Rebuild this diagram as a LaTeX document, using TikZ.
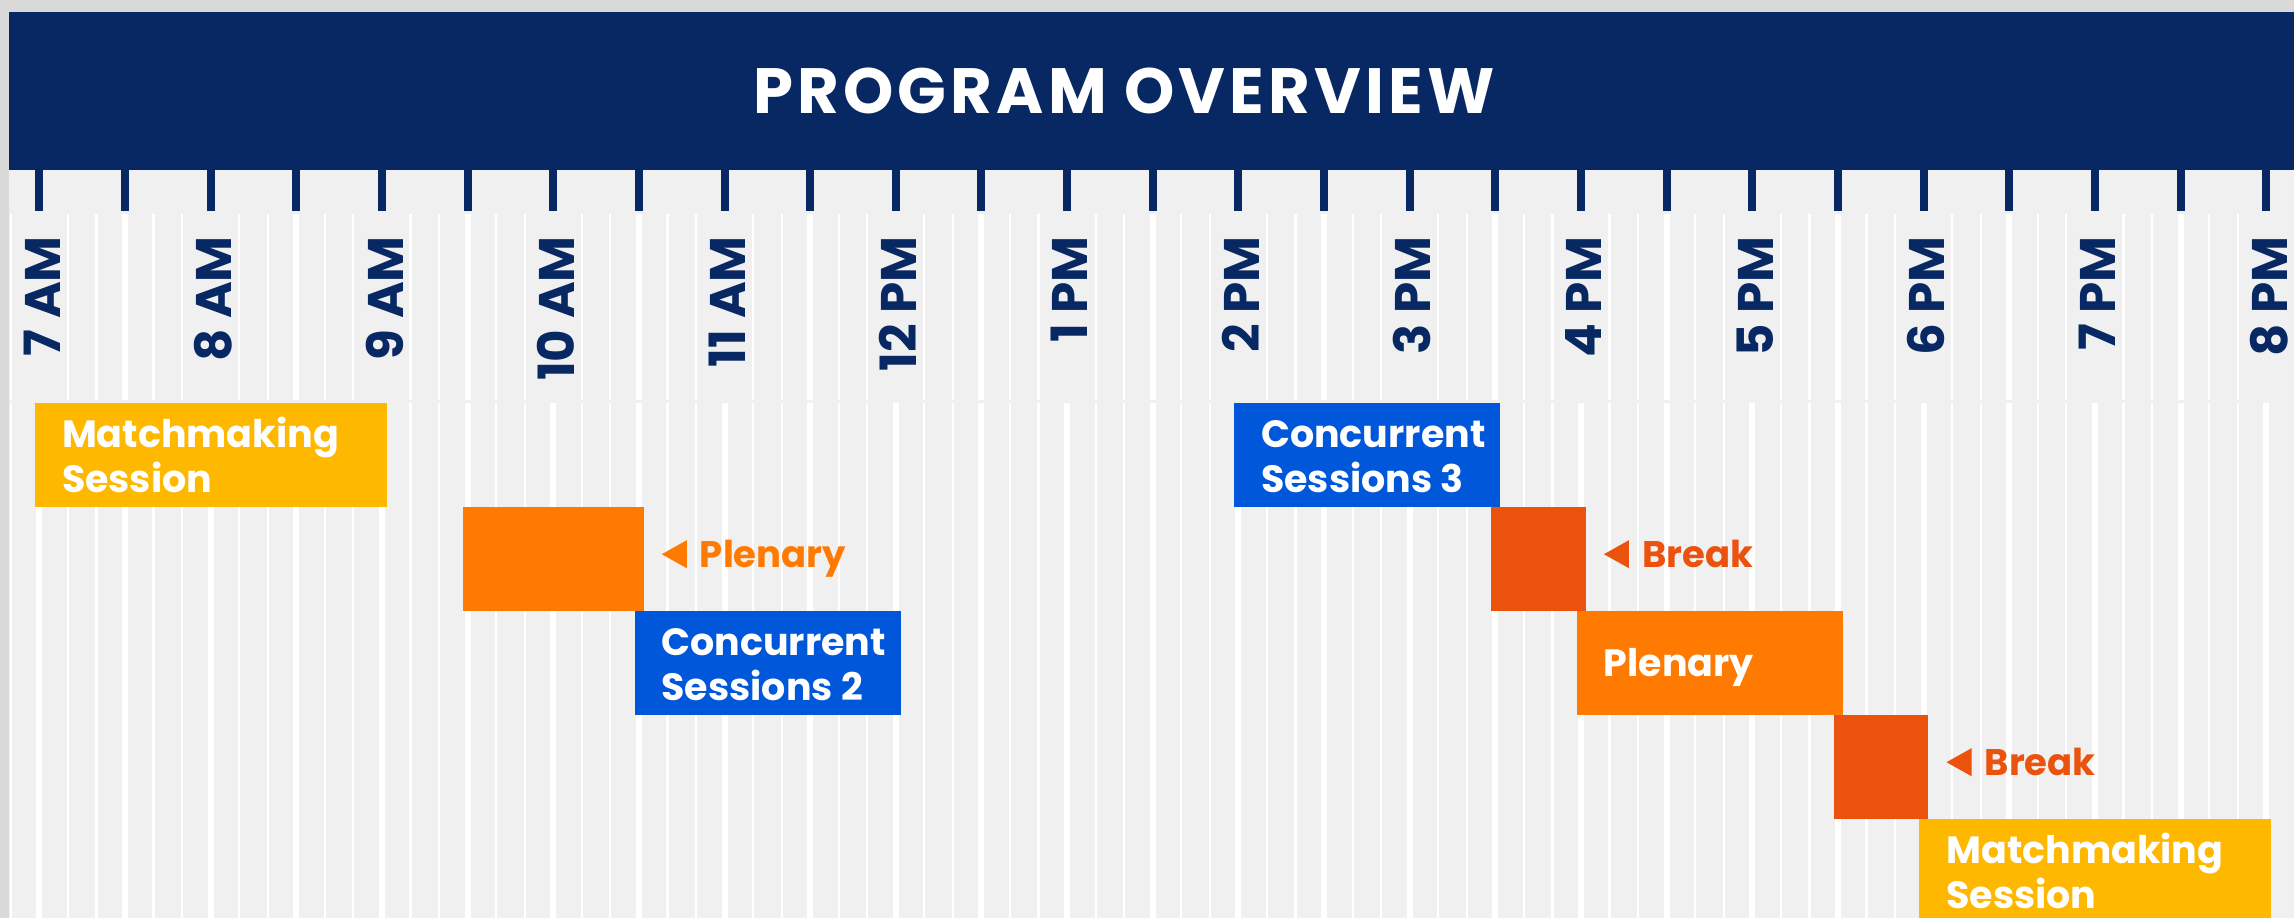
\documentclass[tikz,border=0pt]{standalone}
\usepackage{fontspec}
\setmainfont{Poppins}
\usepackage{tikz}

\definecolor{navy}{RGB}{8,40,99}
\definecolor{bordergray}{RGB}{217,217,217}
\definecolor{chartbg}{RGB}{240,240,240}
\definecolor{mmyellow}{RGB}{255,184,0}
\definecolor{plenorange}{RGB}{255,122,0}
\definecolor{breakorange}{RGB}{234,82,14}
\definecolor{csblue}{RGB}{0,87,217}

\begin{document}
\begin{tikzpicture}[x=1pt,y=-1pt,slot/.style={anchor=north west,inner sep=0pt,xshift=-4.5pt,minimum height=104pt,minimum width={(#1*\hr+9)*1pt}},slotT/.style={anchor=base west,inner sep=0pt,align=left,text=white,font=\fontsize{38}{44.5}\selectfont\bfseries},sideT/.style={anchor=base west,inner sep=0pt,font=\fontsize{37}{44}\selectfont\bfseries},hourT/.style={rotate=90,anchor=east,inner sep=0pt,text=navy,font=\fontsize{50}{50}\selectfont\bfseries},gthin/.style={white,line width=2.2pt},gthick/.style={white,line width=6pt}]
\def\xs{39.3};
\def\hr{171.3};
\def\ytop{403};
\def\ry{104};

\clip (0,0) rectangle (2294,918);
\fill[bordergray] (0,0) rectangle (2294,918);
\fill[chartbg] (9,170) rectangle (2294,918);
\fill[navy] (9,12) rectangle (2294,170);

\node[font=\fontsize{64}{64}\selectfont\bfseries\addfontfeatures{LetterSpace=6.5},text=white,inner sep=0pt] (T) at (1124,91) {PROGRAM OVERVIEW};

% grid, every 10 minutes
\foreach \k in {-1,...,78}{
  \pgfmathtruncatemacro\m{mod(\k+6,3)}
  \pgfmathtruncatemacro\n{mod(\k+6,6)}
  \ifnum\m=0
    \draw[gthick] (\xs+\k*\hr/6,403) -- (\xs+\k*\hr/6,918);
    \ifnum\n=3 \draw[gthick] (\xs+\k*\hr/6,214) -- (\xs+\k*\hr/6,400); \fi
  \else
    \draw[gthin] (\xs+\k*\hr/6,214) -- (\xs+\k*\hr/6,400);
    \draw[gthin] (\xs+\k*\hr/6,403) -- (\xs+\k*\hr/6,918);
  \fi
}

% ticks
\foreach \k in {0,...,26}
  \draw[navy,line width=8pt] (\xs+\k*\hr/2,170) -- (\xs+\k*\hr/2,211);

\foreach \lab [count=\i from 0] in {7 AM,8 AM,9 AM,10 AM,11 AM,12 PM,1 PM,2 PM,3 PM,4 PM,5 PM,6 PM,7 PM,8 PM}
  \node[hourT] (h\i) at (\xs+2.5+\i*\hr,236) {\lab};

\node[slot=2,fill=mmyellow] (MM) at (\xs,\ytop) {};
\node[slotT] (MMt) at ([xshift=27pt,yshift=-37pt]MM.west) {Matchmaking\\Session};

\node[slot=1,fill=plenorange] (P) at (\xs+2.5*\hr,\ytop+\ry) {};
\coordinate (Pa) at ([xshift=18pt,yshift=5pt]P.east);
\fill[plenorange] (Pa) -- ++(25,-14) -- ++(0,28) -- cycle;
\node[sideT,text=plenorange] (Pl) at ([xshift=38pt,yshift=-13pt]Pa) {Plenary};

\node[slot=1.5,fill=csblue] (CS2) at (\xs+3.5*\hr,\ytop+2*\ry) {};
\node[slotT] (CS2t) at ([xshift=27pt,yshift=-37pt]CS2.west) {Concurrent\\Sessions 2};

\node[slot=1.5,fill=csblue] (CS3) at (\xs+7*\hr,\ytop) {};
\node[slotT] (CS3t) at ([xshift=27pt,yshift=-37pt]CS3.west) {Concurrent\\Sessions 3};

\node[slot=0.5,fill=breakorange] (B) at (\xs+8.5*\hr,\ytop+\ry) {};
\coordinate (Ba) at ([xshift=18pt,yshift=5pt]B.east);
\fill[breakorange] (Ba) -- ++(25,-14) -- ++(0,28) -- cycle;
\node[sideT,text=breakorange] (Bl) at ([xshift=38pt,yshift=-13pt]Ba) {Break};

\node[slot=1.5,fill=plenorange] (P2) at (\xs+9*\hr,\ytop+2*\ry) {};
\node[slotT] (P2t) at ([xshift=27pt,yshift=-13pt]P2.west) {Plenary};

\node[slot=0.5,fill=breakorange] (B2) at (\xs+10.5*\hr,\ytop+3*\ry) {};
\coordinate (B2a) at ([xshift=18pt,yshift=5pt]B2.east);
\fill[breakorange] (B2a) -- ++(25,-14) -- ++(0,28) -- cycle;
\node[sideT,text=breakorange] (B2l) at ([xshift=38pt,yshift=-13pt]B2a) {Break};

\node[slot=2,fill=mmyellow] (MM2) at (\xs+11*\hr,\ytop+4*\ry) {};
\node[slotT] (MM2t) at ([xshift=27pt,yshift=-37pt]MM2.west) {Matchmaking\\Session};
\end{tikzpicture}
\end{document}
